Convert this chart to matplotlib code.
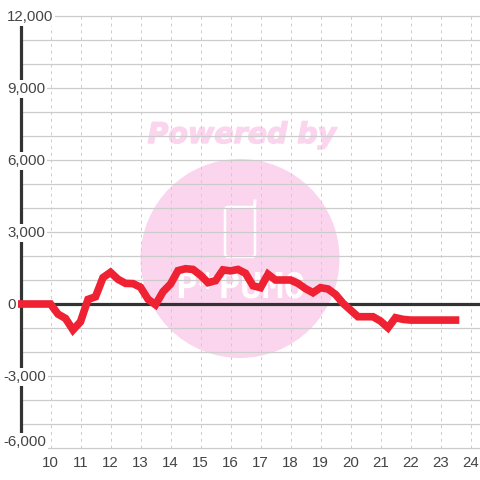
import matplotlib

matplotlib.use("Agg")
import matplotlib.patheffects as pe
import matplotlib.pyplot as plt
from matplotlib.patches import Circle, FancyBboxPatch

# quarter-hour readings, 9:00 to 23:30
hours = [9 + i * 0.25 for i in range(59)]
values = [
    0, 0, 0, 0, 0,
    -420, -600, -1080, -740, 190, 300, 1100, 1320, 1030, 860, 850,
    700, 200, -30, 510, 830, 1390, 1470, 1440, 1200, 890, 970, 1420,
    1380, 1440, 1280, 760, 680, 1240, 1000, 1000, 1000, 860, 640, 470,
    680, 625, 400, 30, -250, -530, -530, -530, -710, -990, -570, -640,
    -670, -670, -670, -670, -670, -670, -670,
]
x_ticks = list(range(10, 25))
y_major = [12000, 9000, 6000, 3000, 0, -3000, -6000]
y_grid = list(range(-6000, 13000, 1000))

W = 480.0
plt.rcParams["font.family"] = ["Liberation Sans", "DejaVu Sans"]

fig = plt.figure(figsize=(4.8, 4.8), dpi=100, facecolor="white")
ax = fig.add_axes([20.5 / W, 1 - 448 / W, (W - 20.5) / W, (448 - 16) / W])
ax.set_xlim(9, 9 + (W - 20.5) / 30)
ax.set_ylim(-6000, 12000)

# watermark sits in pixel space, behind the axes
pink = "#fbd5ee"
fig.add_artist(Circle((240 / W, 1 - 258.5 / W), 99.5 / W, color=pink, lw=0, zorder=0.5))
fig.text(242 / W, 1 - 135 / W, "Powered by", color=pink, fontsize=20.5, ha="center", va="center",
         fontweight="bold", fontstyle="italic", family=["DejaVu Sans"], zorder=0.5,
         path_effects=[pe.withStroke(linewidth=1, foreground=pink)])
fig.add_artist(FancyBboxPatch((225 / W, 1 - 257 / W), 30 / W, 50 / W,
                              boxstyle=f"round,pad=0,rounding_size={3 / W}",
                              fc="none", ec="white", lw=1.8, zorder=0.6))
fig.add_artist(plt.Line2D([254.5 / W, 255 / W], [1 - 208 / W, 1 - 201 / W], color="white", lw=2.2, zorder=0.6))
fig.text(240 / W, 1 - 288 / W, "P*PUMO", color="white", fontsize=26, ha="center", va="center",
         fontweight="bold", family=["DejaVu Sans Mono"], zorder=0.6)

ax.patch.set_visible(False)
ax.set_zorder(2)

for v in y_grid:
    if v != 0:
        ax.axhline(v, color="#cccccc", lw=0.9, zorder=1, clip_on=False)
for h in x_ticks:
    ax.axvline(h, color="#cccccc", lw=0.7, ls=(0, (3, 4)), zorder=1)
ax.axhline(0, color="#333333", lw=2.3, zorder=2)

for s in ["top", "right", "bottom"]:
    ax.spines[s].set_visible(False)
ax.spines["left"].set_linewidth(2.3)
ax.spines["left"].set_color("#333333")
ax.spines["left"].set_zorder(2)

ax.plot(hours, values, color="#ee2233", lw=5.5, zorder=3, clip_on=False,
        solid_capstyle="projecting", solid_joinstyle="miter")

ax.set_xticks(x_ticks)
ax.set_yticks([])
ax.tick_params(axis="x", length=0, pad=5.5, labelsize=10.8, labelcolor="#444444")

for v in y_major:
    dx = 3 if v < 0 else 7
    dy = 6 if v == -6000 else -1
    ax.annotate(f"{v:,}", xy=(0, v), xycoords=ax.get_yaxis_transform(), annotation_clip=False,
                xytext=(dx - 20.5, dy), textcoords="offset pixels", ha="left", va="center",
                fontsize=10.8, color="#444444", zorder=5,
                bbox=dict(fc="white", ec="none", pad=1.5))

fig.savefig("out.png", dpi=100, facecolor="white")
